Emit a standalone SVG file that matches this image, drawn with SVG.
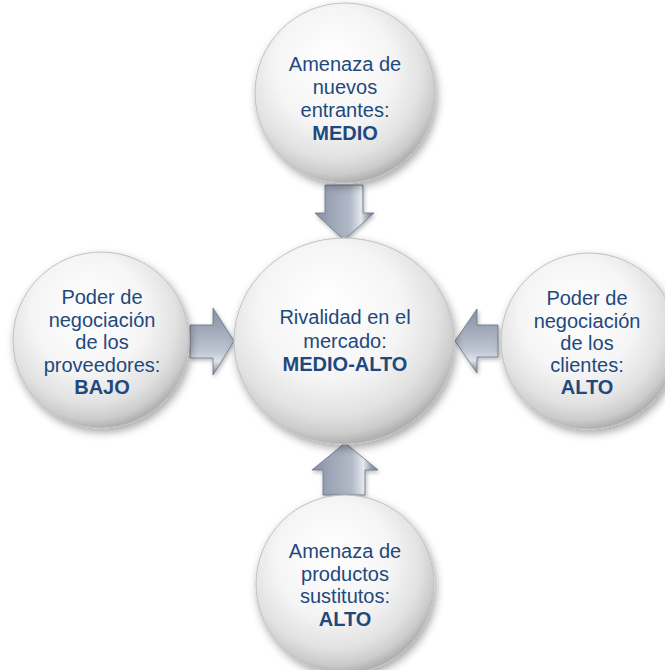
<svg xmlns="http://www.w3.org/2000/svg" width="665" height="670" viewBox="0 0 665 670">
<defs>
<radialGradient id="ball" cx="45%" cy="40%" r="60%" fx="42%" fy="30%">
<stop offset="0" stop-color="#ffffff"/>
<stop offset="0.55" stop-color="#f5f5f5"/>
<stop offset="0.8" stop-color="#e2e2e2"/>
<stop offset="0.93" stop-color="#cccccc"/>
<stop offset="1" stop-color="#b0b0b0"/>
</radialGradient>
<linearGradient id="arrV" x1="0" y1="0" x2="1" y2="0">
<stop offset="0" stop-color="#858ea0"/>
<stop offset="0.25" stop-color="#9ba4b5"/>
<stop offset="0.6" stop-color="#b2bac8"/>
<stop offset="0.78" stop-color="#e3e7ee"/>
<stop offset="0.9" stop-color="#949dae"/>
<stop offset="1" stop-color="#737c8e"/>
</linearGradient>
<linearGradient id="arrH" x1="0" y1="0" x2="0" y2="1">
<stop offset="0" stop-color="#858ea0"/>
<stop offset="0.3" stop-color="#9ea7b8"/>
<stop offset="0.65" stop-color="#bfc6d2"/>
<stop offset="0.8" stop-color="#dfe3ea"/>
<stop offset="1" stop-color="#737c8e"/>
</linearGradient>
<filter id="shadow" x="-20%" y="-20%" width="140%" height="140%">
<feDropShadow dx="2" dy="4" stdDeviation="4" flood-color="#000000" flood-opacity="0.35"/>
</filter>
<filter id="ashadow" x="-30%" y="-30%" width="160%" height="160%">
<feDropShadow dx="1" dy="2" stdDeviation="2" flood-color="#000000" flood-opacity="0.3"/>
</filter>
</defs>
<style>
.ball{fill:url(#ball);stroke:#c0c0c0;stroke-width:1;filter:url(#shadow)}
.av{fill:url(#arrV);stroke:#6a7384;stroke-width:0.8;filter:url(#ashadow)}
.ah{fill:url(#arrH);stroke:#6a7384;stroke-width:0.8;filter:url(#ashadow)}
text{font-family:"Liberation Sans",Arial,sans-serif;font-size:20px;fill:#1F497D;text-anchor:middle}
.b{font-weight:bold}
</style>
<rect width="665" height="670" fill="#ffffff"/>
<g id="connectors">
<polygon class="av" points="325,185 363,185 363,213 374,213 344,240 315,213 325,213"/>
<polygon class="ah" points="190,325 213,325 213,308 234,341 213,375 213,358 190,358"/>
<polygon class="ah" points="498,325 477,325 477,309 455,341 477,373 477,357 498,357"/>
<polygon class="av" points="323,495 365,495 365,470 378,470 345,443 312,470 323,470"/>
</g>
<g id="node-top">
<circle class="ball" cx="345" cy="93" r="90"/>
<text x="345" y="71">Amenaza de</text>
<text x="345" y="94">nuevos</text>
<text x="345" y="117">entrantes:</text>
<text class="b" x="345" y="140">MEDIO</text>
</g>
<g id="node-center">
<ellipse class="ball" cx="344" cy="341" rx="110" ry="103"/>
<text x="345" y="324">Rivalidad en el</text>
<text x="345" y="348">mercado:</text>
<text class="b" x="345" y="371">MEDIO-ALTO</text>
</g>
<g id="node-left">
<circle class="ball" cx="101" cy="340" r="88"/>
<text x="102" y="304">Poder de</text>
<text x="102" y="327">negociación</text>
<text x="102" y="349">de los</text>
<text x="102" y="372">proveedores:</text>
<text class="b" x="102" y="394">BAJO</text>
</g>
<g id="node-right">
<circle class="ball" cx="589" cy="341" r="88"/>
<text x="587" y="305">Poder de</text>
<text x="587" y="328">negociación</text>
<text x="587" y="350">de los</text>
<text x="587" y="372">clientes:</text>
<text class="b" x="587" y="394">ALTO</text>
</g>
<g id="node-bottom">
<circle class="ball" cx="345" cy="584" r="89"/>
<text x="345" y="558">Amenaza de</text>
<text x="345" y="581">productos</text>
<text x="345" y="603">sustitutos:</text>
<text class="b" x="345" y="626">ALTO</text>
</g>
</svg>
